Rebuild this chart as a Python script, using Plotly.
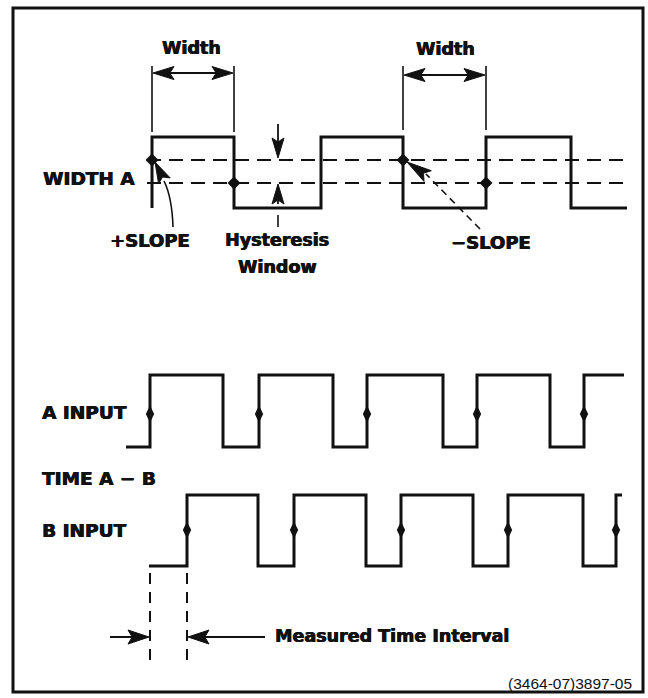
import math
import plotly.graph_objects as go

# ---------------- data (horizontal = time, vertical = signal level) ----------------
WIDTH_A_START, WIDTH_A_END = 152, 627
WIDTH_A_EDGES = [152, 234, 321, 403, 486, 571]
WIDTH_A_LOW, WIDTH_A_HIGH = 208, 137
WIDTH_A_THRESHOLDS = [160, 183]
WIDTH_A_MARK_X = [152, 234, 403, 486]
WIDTH_A_MARK_Y = [160, 183, 160, 183]

A_START, A_END = 126, 624
A_EDGES = [150, 223, 259, 333, 367, 443, 477, 550, 584]
A_LOW, A_HIGH, A_MID = 447, 375, 414

B_START, B_END = 149, 622
B_EDGES = [187, 258, 294, 366, 401, 473, 508, 583, 616]
B_LOW, B_HIGH, B_MID = 566, 495, 530

INK = "#111111"
BOLD = "DejaVu Sans"


def square(start, end, edges, low, high):
    xs, ys = [start], [low]
    level = low
    for e in edges:
        nxt = high if level == low else low
        xs += [e, e]
        ys += [level, nxt]
        level = nxt
    xs.append(end)
    ys.append(level)
    return xs, ys


fig = go.Figure()

# waveforms
for (s, e, edges, lo, hi) in [
    (WIDTH_A_START, WIDTH_A_END, WIDTH_A_EDGES, WIDTH_A_LOW, WIDTH_A_HIGH),
    (A_START, A_END, A_EDGES, A_LOW, A_HIGH),
    (B_START, B_END, B_EDGES, B_LOW, B_HIGH),
]:
    xs, ys = square(s, e, edges, lo, hi)
    fig.add_trace(go.Scatter(x=xs, y=ys, mode="lines",
                             line=dict(color=INK, width=3), hoverinfo="skip"))

# hysteresis thresholds
for t in WIDTH_A_THRESHOLDS:
    fig.add_trace(go.Scatter(x=[147, 628], y=[t, t], mode="lines",
                             line=dict(color=INK, width=2, dash="14px,8px"),
                             hoverinfo="skip"))

# trigger points
fig.add_trace(go.Scatter(x=WIDTH_A_MARK_X, y=WIDTH_A_MARK_Y, mode="markers",
                         marker=dict(symbol="diamond", size=10, color=INK),
                         hoverinfo="skip"))
fig.add_trace(go.Scatter(x=A_EDGES[0::2], y=[A_MID] * len(A_EDGES[0::2]), mode="markers",
                         marker=dict(symbol="diamond-tall", size=12, color=INK),
                         hoverinfo="skip"))
fig.add_trace(go.Scatter(x=B_EDGES[0::2], y=[B_MID] * len(B_EDGES[0::2]), mode="markers",
                         marker=dict(symbol="diamond-tall", size=12, color=INK),
                         hoverinfo="skip"))

shapes = []


def line(x0, y0, x1, y1, w=1.6, dash=None):
    d = dict(type="line", xref="x", yref="y", x0=x0, y0=y0, x1=x1, y1=y1,
             line=dict(color=INK, width=w))
    if dash:
        d["line"]["dash"] = dash
    shapes.append(d)


def head(tx, ty, fx, fy, L=20, W=6):
    dx, dy = tx - fx, ty - fy
    n = math.hypot(dx, dy)
    dx, dy = dx / n, dy / n
    nx, ny = -dy, dx
    bx, by = tx - L * dx, ty - L * dy
    mx, my = tx - 0.8 * L * dx, ty - 0.8 * L * dy
    p = (f"M {tx:.1f} {ty:.1f} L {bx + W * nx:.1f} {by + W * ny:.1f} "
         f"L {mx:.1f} {my:.1f} L {bx - W * nx:.1f} {by - W * ny:.1f} Z")
    shapes.append(dict(type="path", xref="x", yref="y", path=p,
                       fillcolor=INK, line=dict(color=INK, width=1)))


# frame
shapes.append(dict(type="rect", xref="x", yref="y", x0=13, y0=8, x1=643, y1=692,
                   line=dict(color=INK, width=3)))

# Width dimension 1
line(152, 66, 152, 132)
line(234, 66, 234, 132)
line(160, 73, 226, 73, w=2)
head(153, 73, 200, 73, L=21, W=6.5)
head(233, 73, 180, 73, L=21, W=6.5)
# Width dimension 2
line(403, 66, 403, 130)
line(486, 66, 486, 130)
line(411, 75, 478, 75, w=2)
head(404, 75, 450, 75, L=21, W=6.5)
head(485, 75, 440, 75, L=21, W=6.5)

# hysteresis window arrows
line(278, 124, 278, 146, w=1.8)
head(278, 158, 278, 130, L=20, W=6)
line(278, 196, 278, 204, w=1.8)
head(278, 184, 278, 210, L=20, W=6)
line(278, 215, 278, 227, w=1.6)

# +SLOPE leader
shapes.append(dict(type="path", xref="x", yref="y", path="M 173 227 Q 172 197 164 181",
                   line=dict(color=INK, width=1.6)))
head(155, 162, 167, 186, L=21, W=6.5)

# -SLOPE leader
line(480, 229, 426, 174, w=1.6, dash="7px,5px")
head(407, 162, 432, 179, L=25, W=6.5)

# measured interval
line(150, 573, 150, 667, w=2, dash="11px,8px")
line(187, 573, 187, 667, w=2, dash="11px,8px")
line(110, 637, 135, 637, w=2)
head(149, 637, 110, 637, L=21, W=7)
line(200, 637, 265, 637, w=2)
head(188, 637, 230, 637, L=21, W=7)


def text(s, x, y, size=17.5, xanchor="center", family=BOLD, weight="bold"):
    font = dict(family=family, size=size, color=INK, weight=weight)
    if weight == "bold":
        font["shadow"] = "0.6px 0px 0px #111111, -0.3px 0px 0px #111111"
    fig.add_annotation(x=x, y=y, xref="x", yref="y", text=s, showarrow=False,
                       xanchor=xanchor, yanchor="middle", font=font)


text("Width", 191, 48)
text("Width", 445, 49)
text("WIDTH A", 41, 178, size=18.5, xanchor="left")
text("+SLOPE", 150, 240, size=18)
text("Hysteresis", 277, 240)
text("Window", 277, 267)
text("\u2212SLOPE", 491, 242, size=18)
text("A INPUT", 40, 412, size=18.5, xanchor="left")
text("TIME A \u2212 B", 40, 478, size=18.5, xanchor="left")
text("B INPUT", 40, 530, size=18.5, xanchor="left")
text("Measured Time Interval", 273, 636, xanchor="left")
text("(3464-07)3897-05", 634, 683, size=15.5, xanchor="right",
     family="Liberation Sans", weight="normal")

fig.update_layout(
    width=648, height=698, autosize=False,
    margin=dict(l=0, r=0, t=0, b=0),
    paper_bgcolor="white", plot_bgcolor="white",
    showlegend=False, shapes=shapes,
    xaxis=dict(range=[0, 648], visible=False, fixedrange=True),
    yaxis=dict(range=[698, 0], visible=False, fixedrange=True),
)

fig.write_html("out.html", config={"displayModeBar": False},
               post_script="document.body.style.margin='0';document.body.style.overflow='hidden';")
